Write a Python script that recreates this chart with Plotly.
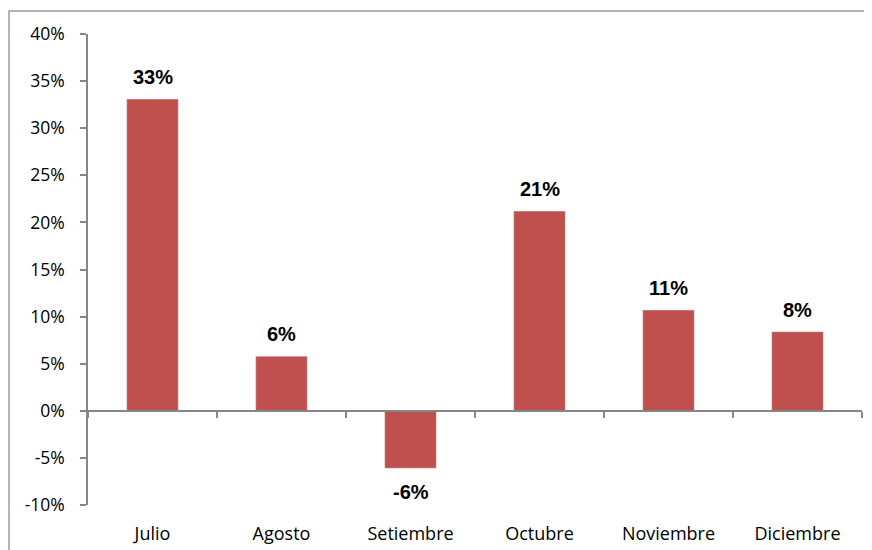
import plotly.graph_objects as go

months = ["Julio", "Agosto", "Setiembre", "Octubre", "Noviembre", "Diciembre"]
values = [33.1, 5.8, -6.1, 21.2, 10.7, 8.4]
value_labels = ["33%", "6%", "-6%", "21%", "11%", "8%"]
y_ticks = [-10, -5, 0, 5, 10, 15, 20, 25, 30, 35, 40]
y_tick_labels = ["-10%", "-5%", "0%", "5%", "10%", "15%", "20%", "25%", "30%", "35%", "40%"]

bar_color = "#C0504D"
axis_color = "#868686"

fig = go.Figure()
fig.add_trace(go.Bar(
    x=months, y=values, marker_color=bar_color,
    xaxis="x", yaxis="y", showlegend=False,
))
# invisible helper trace so the zero-line axis (with boundary ticks) is drawn
fig.add_trace(go.Scatter(
    x=months, y=[0] * len(months), mode="markers", marker=dict(opacity=0),
    xaxis="x2", yaxis="y", showlegend=False, hoverinfo="skip",
))

for m, v, t in zip(months, values, value_labels):
    fig.add_annotation(
        x=m, y=v, xref="x", yref="y", text="<b>" + t + "</b>", showarrow=False,
        yanchor="bottom" if v >= 0 else "top", yshift=9 if v >= 0 else -11,
        font=dict(family="Liberation Sans, Arial", size=20, color="black"),
    )

fig.update_layout(
    width=864, height=542,
    margin=dict(l=80, r=10, t=26, b=45),
    plot_bgcolor="white", paper_bgcolor="white",
    bargap=0.6,
    font=dict(family="Open Sans, Noto Sans, sans-serif", size=18, color="black"),
    yaxis=dict(
        range=[-10, 40], tickvals=y_ticks, ticktext=y_tick_labels, showgrid=False,
        zeroline=False, showline=True, linecolor=axis_color, linewidth=1.5,
        ticks="outside", ticklen=6, tickcolor=axis_color, tickwidth=1.5,
        tickfont=dict(size=17.5), ticklabelstandoff=12, automargin=False,
    ),
    xaxis=dict(
        type="category", categoryorder="array", categoryarray=months,
        showline=False, showgrid=False, ticks="", zeroline=False,
        tickfont=dict(size=18), ticklabelstandoff=16, automargin=False,
    ),
    xaxis2=dict(
        type="category", categoryorder="array", categoryarray=months,
        overlaying="x", matches="x", anchor="free", position=0.2,
        showline=True, linecolor=axis_color, linewidth=1.5,
        ticks="outside", tickson="boundaries", ticklen=6,
        tickcolor=axis_color, tickwidth=1.5, automargin=False,
        showticklabels=False, showgrid=False, zeroline=False,
    ),
    shapes=[dict(
        type="rect", xref="paper", yref="paper",
        x0=-0.102, x1=1.1, y0=-0.2, y1=1.0488,
        line=dict(color="#9a9a9a", width=1.5), layer="below",
    )],
)

fig.write_html("out.html")
